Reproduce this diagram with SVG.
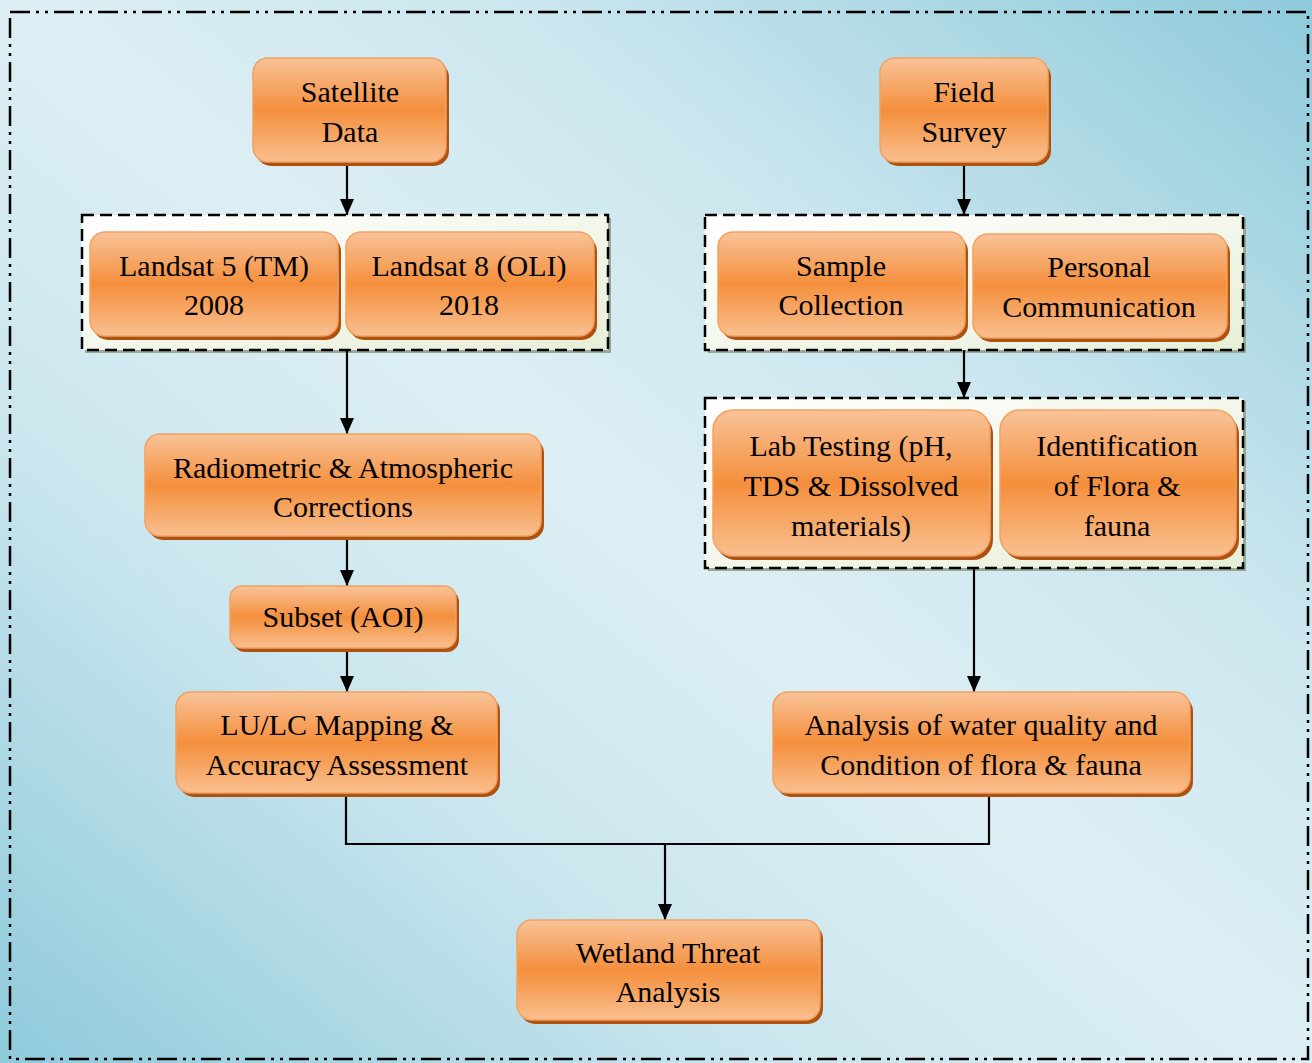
<svg xmlns="http://www.w3.org/2000/svg" width="1312" height="1063" viewBox="0 0 1312 1063">
<defs>
<linearGradient id="bg" x1="0" y1="1" x2="1" y2="0">
<stop offset="0" stop-color="#8ecadb"/>
<stop offset="0.3" stop-color="#cbe6ee"/>
<stop offset="0.5" stop-color="#ddeff4"/>
<stop offset="0.7" stop-color="#cbe6ee"/>
<stop offset="1" stop-color="#8ecadb"/>
</linearGradient>
<linearGradient id="box" x1="0" y1="0" x2="0" y2="1">
<stop offset="0" stop-color="#f9c399"/>
<stop offset="0.5" stop-color="#f48f3c"/>
<stop offset="1" stop-color="#f9bf8f"/>
</linearGradient>
<linearGradient id="grp" x1="0" y1="0" x2="1" y2="1">
<stop offset="0" stop-color="#ffffff"/>
<stop offset="1" stop-color="#e8efd8"/>
</linearGradient>
<marker id="arr" viewBox="0 0 16 14" refX="16" refY="7" markerWidth="16" markerHeight="14" markerUnits="userSpaceOnUse" orient="auto">
<path d="M0,0 L16,7 L0,14 Z" fill="#000"/>
</marker>
<style>
.sh{fill:#b0520f;}
.bx{fill:url(#box);stroke:#f0a264;stroke-width:1.5;}
.gs{fill:#9aa89a;}
.gr{fill:url(#grp);stroke:#000;stroke-width:2.5;stroke-dasharray:12 6;}
.t{font-family:"Liberation Serif","Times New Roman",serif;font-size:30px;fill:#000;text-anchor:middle;}
.c{fill:none;stroke:#000;stroke-width:2.2;}
</style>
</defs>
<rect x="0" y="0" width="1312" height="1063" fill="url(#bg)"/>
<rect x="10" y="12" width="1298" height="1047" fill="none" stroke="#000" stroke-width="2.5" stroke-dasharray="20 6 3 6 3 6"/>

<g id="group1">
<rect class="gs" x="85" y="218" width="526" height="135"/>
<rect class="gr" x="82" y="215" width="526" height="135"/>
</g>
<g id="group2">
<rect class="gs" x="708" y="218" width="538" height="135"/>
<rect class="gr" x="705" y="215" width="538" height="135"/>
</g>
<g id="group3">
<rect class="gs" x="708" y="401" width="538" height="170"/>
<rect class="gr" x="705" y="398" width="538" height="170"/>
</g>

<g id="connectors">
<line class="c" x1="347" y1="162" x2="347" y2="215" marker-end="url(#arr)"/>
<line class="c" x1="347" y1="350" x2="347" y2="434" marker-end="url(#arr)"/>
<line class="c" x1="347" y1="536" x2="347" y2="586" marker-end="url(#arr)"/>
<line class="c" x1="347" y1="648" x2="347" y2="692" marker-end="url(#arr)"/>
<line class="c" x1="964" y1="162" x2="964" y2="215" marker-end="url(#arr)"/>
<line class="c" x1="964" y1="350" x2="964" y2="398" marker-end="url(#arr)"/>
<line class="c" x1="974" y1="568" x2="974" y2="692" marker-end="url(#arr)"/>
<polyline class="c" points="346,793 346,844 989,844 989,793"/>
<line class="c" x1="665" y1="844" x2="665" y2="920" marker-end="url(#arr)"/>
</g>

<g id="satellite">
<rect class="sh" x="256" y="62" width="193" height="104" rx="15"/>
<rect class="bx" x="253" y="58" width="193" height="104" rx="15"/>
<text class="t" x="350" y="102">Satellite</text>
<text class="t" x="350" y="142">Data</text>
</g>
<g id="field">
<rect class="sh" x="883" y="62" width="168" height="104" rx="15"/>
<rect class="bx" x="880" y="58" width="168" height="104" rx="15"/>
<text class="t" x="964" y="102">Field</text>
<text class="t" x="964" y="142">Survey</text>
</g>
<g id="landsat5">
<rect class="sh" x="93" y="236" width="248" height="104" rx="15"/>
<rect class="bx" x="90" y="232" width="248" height="104" rx="15"/>
<text class="t" x="214" y="276">Landsat 5 (TM)</text>
<text class="t" x="214" y="315">2008</text>
</g>
<g id="landsat8">
<rect class="sh" x="349" y="236" width="248" height="104" rx="15"/>
<rect class="bx" x="346" y="232" width="248" height="104" rx="15"/>
<text class="t" x="469" y="276">Landsat 8 (OLI)</text>
<text class="t" x="469" y="315">2018</text>
</g>
<g id="sample">
<rect class="sh" x="721" y="236" width="247" height="104" rx="15"/>
<rect class="bx" x="718" y="232" width="247" height="104" rx="15"/>
<text class="t" x="841" y="276">Sample</text>
<text class="t" x="841" y="315">Collection</text>
</g>
<g id="personal">
<rect class="sh" x="976" y="238" width="254" height="104" rx="15"/>
<rect class="bx" x="973" y="234" width="254" height="104" rx="15"/>
<text class="t" x="1099" y="277">Personal</text>
<text class="t" x="1099" y="317">Communication</text>
</g>
<g id="lab">
<rect class="sh" x="716" y="414" width="277" height="146" rx="20"/>
<rect class="bx" x="713" y="410" width="277" height="146" rx="20"/>
<text class="t" x="851" y="456">Lab Testing (pH,</text>
<text class="t" x="851" y="496">TDS &amp; Dissolved</text>
<text class="t" x="851" y="536">materials)</text>
</g>
<g id="identification">
<rect class="sh" x="1003" y="414" width="236" height="146" rx="20"/>
<rect class="bx" x="1000" y="410" width="236" height="146" rx="20"/>
<text class="t" x="1117" y="456">Identification</text>
<text class="t" x="1117" y="496">of Flora &amp;</text>
<text class="t" x="1117" y="536">fauna</text>
</g>
<g id="radiometric">
<rect class="sh" x="148" y="438" width="396" height="102" rx="15"/>
<rect class="bx" x="145" y="434" width="396" height="102" rx="15"/>
<text class="t" x="343" y="478">Radiometric &amp; Atmospheric</text>
<text class="t" x="343" y="517">Corrections</text>
</g>
<g id="subset">
<rect class="sh" x="233" y="590" width="226" height="62" rx="12"/>
<rect class="bx" x="230" y="586" width="226" height="62" rx="12"/>
<text class="t" x="343" y="627">Subset (AOI)</text>
</g>
<g id="lulc">
<rect class="sh" x="179" y="696" width="321" height="101" rx="15"/>
<rect class="bx" x="176" y="692" width="321" height="101" rx="15"/>
<text class="t" x="337" y="735">LU/LC Mapping &amp;</text>
<text class="t" x="337" y="775">Accuracy Assessment</text>
</g>
<g id="analysis">
<rect class="sh" x="776" y="696" width="417" height="101" rx="15"/>
<rect class="bx" x="773" y="692" width="417" height="101" rx="15"/>
<text class="t" x="981" y="735">Analysis of water quality and</text>
<text class="t" x="981" y="775">Condition of flora &amp; fauna</text>
</g>
<g id="wetland">
<rect class="sh" x="520" y="924" width="303" height="100" rx="15"/>
<rect class="bx" x="517" y="920" width="303" height="100" rx="15"/>
<text class="t" x="668" y="963">Wetland Threat</text>
<text class="t" x="668" y="1002">Analysis</text>
</g>
</svg>
